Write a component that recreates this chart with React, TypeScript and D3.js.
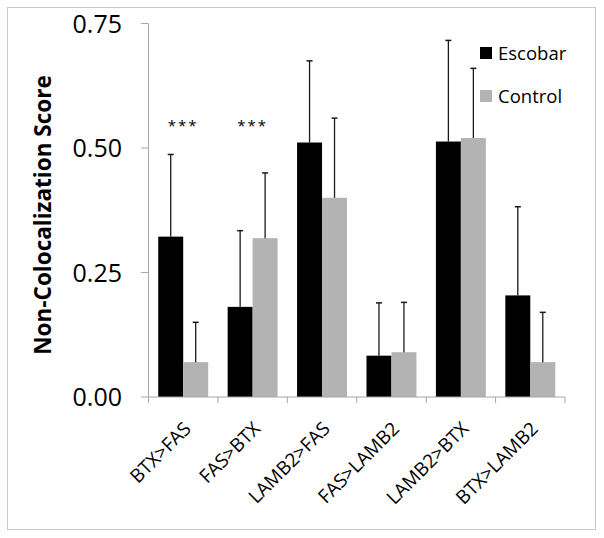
import React from "react";
import * as d3 from "d3";

const categories = ["BTX>FAS", "FAS>BTX", "LAMB2>FAS", "FAS>LAMB2", "LAMB2>BTX", "BTX>LAMB2"];
const seriesNames = ["Escobar", "Control"];
const escobarValues = [0.322, 0.181, 0.511, 0.083, 0.513, 0.204];
const escobarErrors = [0.165, 0.153, 0.164, 0.106, 0.203, 0.178];
const controlValues = [0.07, 0.319, 0.4, 0.09, 0.52, 0.07];
const controlErrors = [0.08, 0.131, 0.16, 0.1, 0.14, 0.1];
const significance = ["***", "***", "", "", "", ""];
const yTicks = [0, 0.25, 0.5, 0.75];
const colors = ["#000000", "#b3b3b3"];

const W = 604;
const H = 538;
const FONT = "'Open Sans', sans-serif";

export default function App() {
  const x0 = d3.scaleBand<string>().domain(categories).range([148.5, 565]).paddingInner(0).paddingOuter(0);
  const x1 = d3.scaleBand<string>().domain(seriesNames).range([0, x0.bandwidth()]).paddingInner(0).paddingOuter(0.39);
  const y = d3.scaleLinear().domain([0, 0.75]).range([397, 23.5]);
  const series = [
    { name: seriesNames[0], values: escobarValues, errors: escobarErrors, color: colors[0] },
    { name: seriesNames[1], values: controlValues, errors: controlErrors, color: colors[1] },
  ];
  const fmt = d3.format(".2f");
  const axisColor = "#a6a6a6";
  const tickPositions = [...categories.map((c) => x0(c) as number), 565];

  return (
    <svg width={W} height={H} style={{ position: "absolute", left: 0, top: 0, background: "#fff" }}>
      <rect x={7.5} y={7.5} width={588} height={522} fill="#fff" stroke="#c8c8c8" strokeWidth={1} />
      {/* y axis */}
      <line x1={148.5} x2={148.5} y1={y(0.75)} y2={y(0)} stroke={axisColor} strokeWidth={1} />
      {yTicks.map((t) => (
        <g key={t}>
          <line x1={141} x2={148.5} y1={y(t)} y2={y(t)} stroke={axisColor} strokeWidth={1} />
          <text x={122} y={y(t)} dy="0.36em" textAnchor="end" fontFamily={FONT} fontSize={25} fill="#000">
            {fmt(t)}
          </text>
        </g>
      ))}
      <text
        transform={`translate(51, ${(72 + 358) / 2}) rotate(-90)`}
        textAnchor="middle"
        fontFamily={FONT}
        fontWeight="bold"
        fontSize={22.5}
        fill="#000"
      >
        Non-Colocalization Score
      </text>
      {/* bars */}
      {categories.map((c, i) => (
        <g key={c} transform={`translate(${x0(c)},0)`}>
          {series.map((s) => {
            const bx = x1(s.name) as number;
            const bw = x1.bandwidth();
            const cx = bx + bw / 2;
            const top = y(s.values[i]);
            const et = y(s.values[i] + s.errors[i]);
            return (
              <g key={s.name}>
                <rect x={bx} y={top} width={bw} height={y(0) - top} fill={s.color} />
                <line x1={cx} x2={cx} y1={top} y2={et} stroke="#1a1a1a" strokeWidth={1.3} />
                <line x1={cx - 3} x2={cx + 3} y1={et} y2={et} stroke="#1a1a1a" strokeWidth={1.5} />
              </g>
            );
          })}
          {significance[i] && (
            <text x={x0.bandwidth() / 2} y={131} textAnchor="middle" fontFamily={FONT} fontSize={15} letterSpacing={2} fill="#000">
              {significance[i]}
            </text>
          )}
        </g>
      ))}
      {/* x axis */}
      <line x1={148.5} x2={565} y1={y(0)} y2={y(0)} stroke={axisColor} strokeWidth={1} />
      {tickPositions.map((p, i) => (
        <line key={i} x1={p} x2={p} y1={y(0)} y2={y(0) + 6} stroke={axisColor} strokeWidth={1} />
      ))}
      {categories.map((c) => {
        const cx = (x0(c) as number) + x0.bandwidth() / 2;
        return (
          <text
            key={c}
            transform={`translate(${cx + 9}, 430) rotate(-45)`}
            textAnchor="end"
            fontFamily={FONT}
            fontSize={19}
            fill="#000"
          >
            {c}
          </text>
        );
      })}
      {/* legend */}
      {series.map((s, i) => (
        <g key={s.name} transform={`translate(480, ${47 + i * 43})`}>
          <rect x={0} y={0} width={12} height={12} fill={s.color} />
          <text x={18} y={6} dy="0.36em" fontFamily={FONT} fontSize={18.5} fill="#000">
            {s.name}
          </text>
        </g>
      ))}
    </svg>
  );
}
